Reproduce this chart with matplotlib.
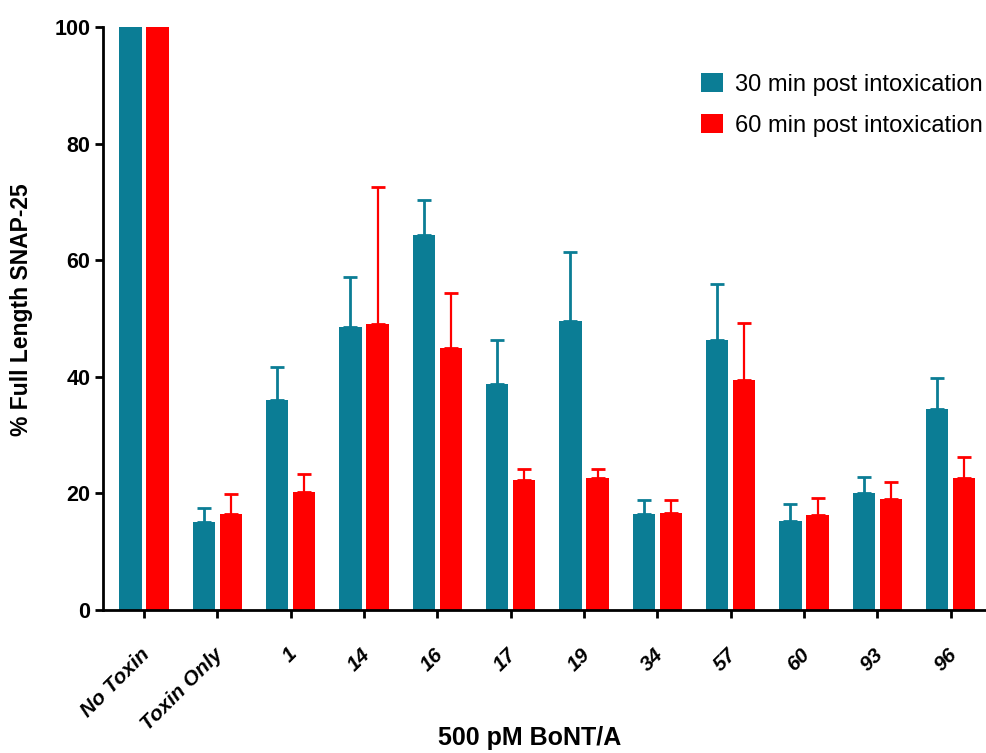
import matplotlib
matplotlib.use("Agg")
from matplotlib import pyplot as plt
from matplotlib.transforms import ScaledTranslation
import numpy as np

categories = ["No Toxin", "Toxin Only", "1", "14", "16", "17", "19", "34", "57", "60", "93", "96"]
min30 = [100, 15.1, 36.1, 48.6, 64.3, 38.7, 49.6, 16.5, 46.4, 15.3, 20.1, 34.4]
min30_err = [0, 2.4, 5.6, 8.6, 6.0, 7.6, 11.8, 2.3, 9.6, 2.9, 2.7, 5.4]
min60 = [100, 16.4, 20.2, 49.0, 44.9, 22.3, 22.7, 16.7, 39.4, 16.3, 19.1, 22.6]
min60_err = [0, 3.5, 3.1, 23.6, 9.5, 1.8, 1.4, 2.2, 9.8, 2.9, 2.9, 3.7]
series_names = ["30 min post intoxication", "60 min post intoxication"]

teal = "#0b7d95"
red = "#ff0000"

fig = plt.figure(figsize=(9.87, 7.53), dpi=100)
ax = fig.add_axes([0.1044, 0.19, 0.8936, 0.774])

x = np.arange(len(categories))
width = 0.305
offset = 0.185

ax.bar(x - offset, min30, width, color=teal, label=series_names[0], zorder=2)
ax.bar(x + offset, min60, width, color=red, label=series_names[1], zorder=2)

# one-sided (upward) error bars, skip the normalised control
e = np.array(min30_err)
ax.errorbar(x[1:] - offset, np.array(min30)[1:], yerr=[np.zeros(len(e) - 1), e[1:]],
            fmt="none", ecolor=teal, elinewidth=2, capsize=5, capthick=2, zorder=1)
e = np.array(min60_err)
ax.errorbar(x[1:] + offset, np.array(min60)[1:], yerr=[np.zeros(len(e) - 1), e[1:]],
            fmt="none", ecolor=red, elinewidth=1.6, capsize=5, capthick=2, zorder=1)

ax.set_ylim(0, 100)
ax.set_xlim(-0.56, 11.47)
ax.set_yticks([0, 20, 40, 60, 80, 100])
for s in ["top", "right"]:
    ax.spines[s].set_visible(False)
for s in ["left", "bottom"]:
    ax.spines[s].set_linewidth(2)
ax.tick_params(axis="both", direction="out", width=2, length=6)
ax.tick_params(axis="x", pad=19)
ax.tick_params(axis="y", pad=3)

for lbl in ax.get_yticklabels():
    lbl.set_fontfamily("Liberation Sans")
    lbl.set_fontweight("bold")
    lbl.set_fontsize(15.5)

ax.set_xticks(x)
ax.set_xticklabels(categories, rotation=45, ha="right", fontsize=15,
                   fontweight="bold", fontstyle="italic", family="Liberation Sans")
shift = ScaledTranslation(7 / 72, 0, fig.dpi_scale_trans)
for lbl in ax.get_xticklabels():
    lbl.set_transform(lbl.get_transform() + shift)

narrow = ["Liberation Sans Narrow", "Liberation Sans", "DejaVu Sans"]
ax.set_ylabel("% Full Length SNAP-25", fontsize=16.5, fontweight="bold", family=narrow)
ax.yaxis.set_label_coords(-0.079, 0.515)
ax.set_xlabel("500 pM BoNT/A", fontsize=18, fontweight="bold", family=narrow)
ax.xaxis.set_label_coords(0.484, -0.2)

ax.legend(loc="upper right", bbox_to_anchor=(1.021, 0.958), frameon=False,
          prop={"family": "Liberation Sans", "size": 17},
          handlelength=0.9, handleheight=0.9, handletextpad=0.5, labelspacing=0.76)

fig.savefig("out.png", dpi=100)
